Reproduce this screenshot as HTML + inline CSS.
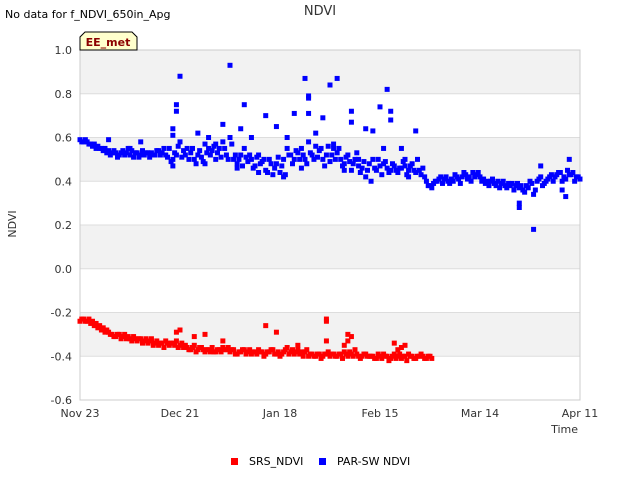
<!DOCTYPE html>
<html><head><meta charset="utf-8"><style>
body{margin:0;background:#fff;font-family:"Liberation Sans","DejaVu Sans",sans-serif}
svg text{font-family:"DejaVu Sans","Liberation Sans",sans-serif}
</style></head><body>
<svg id="chart" width="640" height="480" xmlns="http://www.w3.org/2000/svg">
<rect width="640" height="480" fill="#fff"/>
<text x="5" y="18" font-size="11" fill="#000">No data for f_NDVI_650in_Apg</text>
<text x="320" y="15" font-size="13" fill="#333" text-anchor="middle">NDVI</text>
<g id="bands"></g>
<g id="grid"></g>
<rect x="80" y="50" width="500" height="350" fill="none" stroke="#ccc"/>
<g id="ticks"></g>
<g id="marks"></g>
<g>
<path d="M80,50 L80,37 L85,32 L132,32 L137,37 L137,50 Z" fill="#ffffcc" stroke="#000"/>
<text x="108" y="46" font-size="11" font-weight="bold" fill="#8b0000" text-anchor="middle">EE_met</text>
</g>
<text x="16" y="224" font-size="11" fill="#333" text-anchor="middle" transform="rotate(-90 16 224)">NDVI</text>
<text x="578" y="433" font-size="11" fill="#333" text-anchor="end">Time</text>
<g>
<rect x="231" y="458" width="7" height="7" fill="#f00"/>
<text x="249" y="465" font-size="11" fill="#000">SRS_NDVI</text>
<rect x="319" y="458" width="7" height="7" fill="#00f"/>
<text x="337" y="465" font-size="11" fill="#000">PAR-SW NDVI</text>
</g>
</svg>
<script>
const yTicks=[1.0,0.8,0.6,0.4,0.2,0.0,-0.2,-0.4,-0.6];
const xTickDays=[0,28,56,84,112,140];
const xTickLabels=["Nov 23","Dec 21","Jan 18","Feb 15","Mar 14","Apr 11"];
const blueDaily=[.59,.58,.58,.57,.57,.56,.55,.55,.54,.53,.53,.52,.54,.53,.52,.51,.53,.52,.52,.53,.53,.52,.54,.53,.52,.55,.50,.52,.58,.54,.55,.53,.50,.52,.51,.57,.55,.54,.50,.55,.58,.52,.60,.50,.48,.52,.55,.49,.50,.47,.52,.49,.45,.50,.43,.48,.44,.50,.55,.52,.50,.53,.55,.50,.58,.52,.56,.54,.50,.52,.49,.55,.53,.50,.48,.52,.45,.50,.47,.46,.42,.48,.50,.45,.47,.48,.46,.45,.47,.44,.46,.47,.45,.48,.44,.45,.46,.40,.38,.39,.40,.42,.41,.40,.41,.43,.41,.42,.43,.42,.44,.43,.42,.41,.40,.40,.39,.40,.39,.38,.39,.39,.38,.37,.36,.38,.40,.34,.40,.42,.39,.41,.43,.42,.44,.40,.41,.43,.44,.42,.41];
const blueDaily2=[.58,.59,.57,.56,.55,.55,.54,.53,.52,.54,.51,.53,.52,.55,.54,.53,.51,.54,.53,.51,.52,.54,.52,.55,.51,.49,.53,.56,.51,.52,.50,.55,.48,.54,.49,.53,.52,.56,.53,.51,.55,.50,.57,.52,.50,.47,.51,.52,.46,.51,.48,.50,.44,.48,.46,.51,.47,.43,.52,.48,.54,.50,.52,.48,.53,.50,.51,.55,.47,.56,.52,.50,.55,.47,.51,.49,.48,.53,.44,.49,.45,.40,.46,.50,.43,.49,.44,.48,.45,.46,.49,.43,.47,.45,.50,.43,.42,.38,.37,.40,.41,.39,.42,.39,.40,.42,.39,.44,.41,.40,.42,.44,.40,.39,.38,.41,.38,.37,.40,.37,.38,.36,.39,.38,.35,.37,.39,.36,.41,.38,.40,.42,.40,.43,.44,.42,.45,.43,.40,.42];
const blueExtraDays=[28,27,27,26,26,42,46,52,55,63,64,64,70,72,76,76,84,86,87,87,94,64,68,40,45,60,127,123,123,129,137,136,135,58,33,36,48,80,82,90,91,8,14,17,26,35,38,44,50,57,62,66,71,74,78,85,92];
const blueExtraVals=[.88,.75,.72,.64,.61,.93,.75,.70,.65,.87,.78,.79,.84,.87,.72,.67,.74,.82,.72,.68,.63,.71,.69,.66,.64,.71,.18,.30,.28,.47,.50,.33,.36,.60,.62,.60,.60,.64,.63,.55,.50,.59,.55,.58,.47,.48,.57,.46,.44,.42,.46,.62,.57,.45,.50,.55,.42];
const redDaily=[-.24,-.23,-.24,-.25,-.26,-.27,-.28,-.29,-.29,-.30,-.31,-.30,-.31,-.32,-.32,-.31,-.33,-.32,-.33,-.34,-.33,-.34,-.35,-.34,-.33,-.35,-.34,-.33,-.35,-.36,-.36,-.37,-.35,-.37,-.36,-.38,-.37,-.36,-.38,-.37,-.36,-.37,-.38,-.37,-.39,-.38,-.37,-.38,-.39,-.38,-.37,-.38,-.39,-.38,-.37,-.39,-.40,-.38,-.36,-.38,-.39,-.37,-.38,-.38,-.40,-.39,-.40,-.39,-.40,-.39,-.40,-.39,-.40,-.39,-.38,-.40,-.39,-.37,-.40,-.40,-.39,-.40,-.40,-.41,-.40,-.39,-.40,-.41,-.39,-.40,-.41,-.40,-.39,-.40,-.41,-.40,-.40,-.41,-.40];
const redDaily2=[-.23,-.24,-.23,-.24,-.25,-.26,-.27,-.28,-.30,-.31,-.30,-.32,-.30,-.31,-.33,-.32,-.32,-.34,-.32,-.33,-.35,-.33,-.34,-.36,-.34,-.34,-.35,-.36,-.34,-.35,-.37,-.36,-.38,-.36,-.37,-.37,-.38,-.38,-.37,-.38,-.37,-.36,-.37,-.39,-.38,-.37,-.39,-.37,-.38,-.39,-.38,-.40,-.38,-.37,-.39,-.38,-.39,-.37,-.39,-.37,-.38,-.39,-.40,-.37,-.39,-.40,-.39,-.41,-.39,-.38,-.39,-.40,-.39,-.41,-.39,-.38,-.40,-.39,-.41,-.39,-.40,-.40,-.41,-.39,-.41,-.40,-.42,-.40,-.41,-.39,-.40,-.42,-.40,-.41,-.40,-.39,-.41,-.40,-.41];
const redExtraDays=[28,27,32,35,52,55,61,69,69,69,75,74,76,75,88,89,91,90,20,40];
const redExtraVals=[-.28,-.29,-.31,-.30,-.26,-.29,-.35,-.23,-.24,-.33,-.30,-.35,-.31,-.33,-.34,-.37,-.35,-.36,-.32,-.33];

const NS="http://www.w3.org/2000/svg";
const xS=d=>80+d*500/140;
const yS=v=>50+(1-v)*350/1.6;
function mk(tag,attrs,parent){const e=document.createElementNS(NS,tag);for(const k in attrs)e.setAttribute(k,attrs[k]);document.getElementById(parent).appendChild(e);return e;}
for(let i=0;i<yTicks.length-1;i++){
  if(i%2===0){const b=mk('rect',{x:80,y:yS(yTicks[i]),width:500,height:yS(yTicks[i+1])-yS(yTicks[i]),fill:'#f2f2f2'},'bands');
  
  }
}
yTicks.forEach(v=>{
  const l=mk('line',{x1:80,x2:580,y1:yS(v),y2:yS(v),stroke:'#ddd'},'grid');
  
  
  const t=mk('text',{x:72,y:yS(v)+4,'font-size':11,fill:'#333','text-anchor':'end'},'ticks');
  t.textContent=v.toFixed(1);
  
  
});
xTickDays.forEach((d,i)=>{
  const t=mk('text',{x:xS(d),y:417,'font-size':11,fill:'#333','text-anchor':'middle'},'ticks');
  t.textContent=xTickLabels[i];
  
  
});
function pt(d,v,c,name){
  const r=mk('rect',{x:xS(d)-2.5,y:yS(v)-2.5,width:5,height:5,fill:c},'marks');
  
  
}
redDaily.forEach((v,d)=>pt(d,v,'#f00','srs-point'));
redDaily2.forEach((v,d)=>pt(d+0.5,v,'#f00','srs-point'));
redExtraDays.forEach((d,i)=>pt(d,redExtraVals[i],'#f00','srs-point'));
blueDaily.forEach((v,d)=>pt(d,v,'#00f','parsw-point'));
blueDaily2.forEach((v,d)=>pt(d+0.5,v,'#00f','parsw-point'));
blueExtraDays.forEach((d,i)=>pt(d,blueExtraVals[i],'#00f','parsw-point'));
</script>
</body></html>
